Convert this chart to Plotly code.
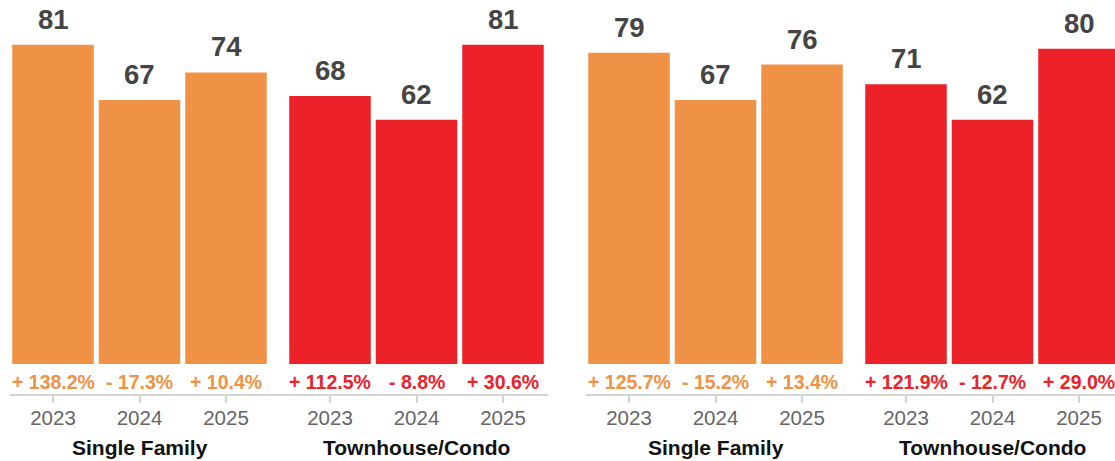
import plotly.graph_objects as go

W, H = 1115, 461

years = ["2023", "2024", "2025"]
groups = ["Single Family", "Townhouse/Condo", "Single Family", "Townhouse/Condo"]
values_left_sf = [81, 67, 74]
values_left_tc = [68, 62, 81]
values_right_sf = [79, 67, 76]
values_right_tc = [71, 62, 80]
change_left_sf = [138.2, -17.3, 10.4]
change_left_tc = [112.5, -8.8, 30.6]
change_right_sf = [125.7, -15.2, 13.4]
change_right_tc = [121.9, -12.7, 29.0]

ORANGE = "#F09245"
RED = "#EC2129"
colors = [ORANGE, RED, ORANGE, RED]
series_values = [values_left_sf, values_left_tc, values_right_sf, values_right_tc]
series_changes = [change_left_sf, change_left_tc, change_right_sf, change_right_tc]

FONT = "Arial, Liberation Sans, sans-serif"

# pixel layout of each group's axis (left, right) and axis ranges
px_domains = [(9.75, 269.25), (286.75, 546.25), (585.75, 845.25), (862.75, 1115)]
slot = 86.5
px_per_unit = 3.94
axis_y_px = 395
base_y_px = 364

y_bottom = -(axis_y_px - base_y_px) / px_per_unit
y_top = base_y_px / px_per_unit
y_dom_bottom = 1 - axis_y_px / H

fig = go.Figure()
annotations = []
for i, (vals, chg, col) in enumerate(zip(series_values, series_changes, colors)):
    ax = "" if i == 0 else str(i + 1)
    fig.add_trace(go.Bar(
        x=years, y=vals, marker=dict(color=col, line=dict(width=0)),
        xaxis="x" + ax, yaxis="y", showlegend=False, hoverinfo="skip",
    ))
    d0, d1 = px_domains[i]
    rng_hi = -0.5 + (d1 - d0) / slot
    fig.update_layout(**{
        "xaxis" + ax: dict(
            domain=[d0 / W, d1 / W], anchor="y", type="category",
            categoryorder="array", categoryarray=years,
            range=[-0.5, rng_hi], showline=False, showgrid=False, zeroline=False,
            ticks="outside", ticklen=7, tickwidth=2, tickcolor="#D4D4D4",
            ticklabelstandoff=-3,
            tickfont=dict(family=FONT, size=20.5, color="#666666"),
            fixedrange=True,
        )
    })
    for j, (v, c) in enumerate(zip(vals, chg)):
        annotations.append(dict(
            x=j, y=v, xref="x" + ax, yref="y", text="<b>%d</b>" % v, showarrow=False,
            yanchor="bottom", yshift=8,
            font=dict(family=FONT, size=27.5, color="#444444"),
        ))
        sign = "+" if c >= 0 else "-"
        annotations.append(dict(
            x=j, y=0, xref="x" + ax, yref="y", text="<b>%s %.1f%%</b>" % (sign, abs(c)),
            showarrow=False, yanchor="middle", yshift=-18,
            font=dict(family=FONT, size=19.5, color=col),
        ))
    annotations.append(dict(
        x=1, y=1 - 447 / H, xref="x" + ax, yref="paper",
        text="<b>%s</b>" % groups[i],
        showarrow=False, yanchor="middle",
        font=dict(family=FONT, size=21, color="#111111"),
    ))

shapes = [
    dict(type="line", xref="paper", yref="paper", x0=10 / W, x1=548 / W,
         y0=y_dom_bottom, y1=y_dom_bottom, line=dict(color="#D4D4D4", width=2)),
    dict(type="line", xref="paper", yref="paper", x0=586 / W, x1=1.0,
         y0=y_dom_bottom, y1=y_dom_bottom, line=dict(color="#D4D4D4", width=2)),
]

fig.update_layout(
    width=W, height=H, margin=dict(l=0, r=0, t=0, b=0),
    paper_bgcolor="white", plot_bgcolor="white",
    bargap=5 / slot,
    yaxis=dict(domain=[y_dom_bottom, 1], range=[y_bottom, y_top], visible=False,
               fixedrange=True),
    annotations=annotations, shapes=shapes,
    font=dict(family=FONT),
)

fig.write_html("out.html", config={"displayModeBar": False})
